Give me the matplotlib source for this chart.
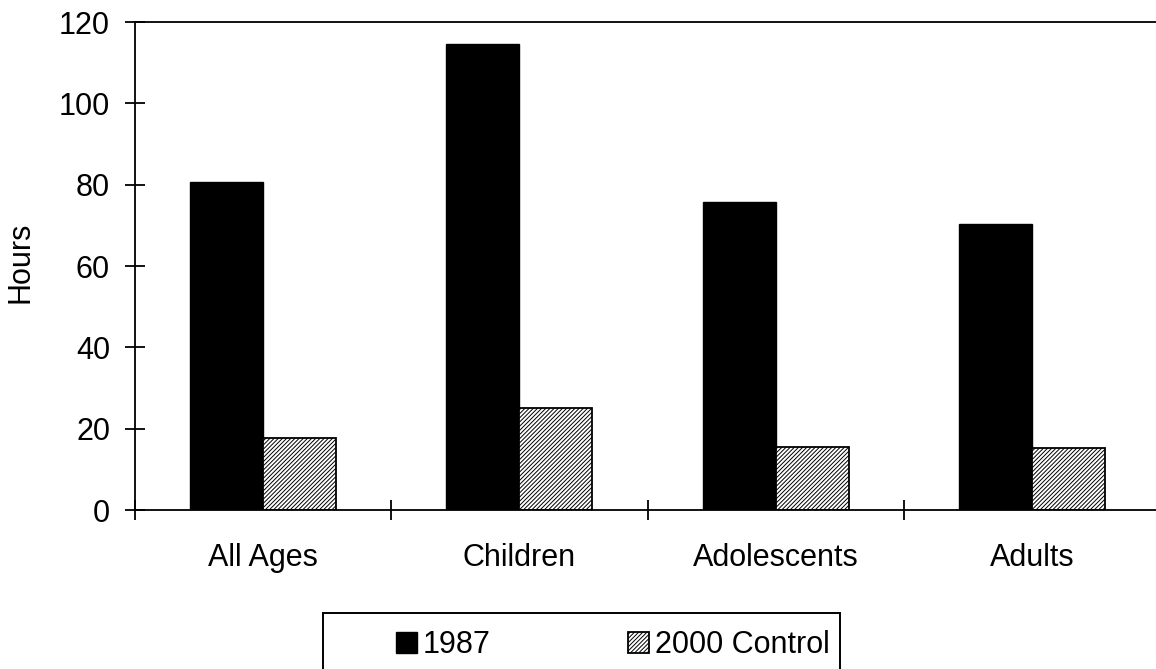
import numpy as np
import matplotlib.pyplot as plt
from matplotlib.patches import Rectangle

plt.rcParams['font.family'] = ['Liberation Sans', 'DejaVu Sans']
plt.rcParams['hatch.linewidth'] = 0.7

categories = ['All Ages', 'Children', 'Adolescents', 'Adults']
hours_1987 = [80.6, 114.6, 75.7, 70.3]
hours_2000 = [17.6, 25.1, 15.6, 15.2]
yticks = [0, 20, 40, 60, 80, 100, 120]

W, H = 1156, 669
fig = plt.figure(figsize=(W / 100, H / 100), dpi=100)
ax = fig.add_axes([135 / W, 1 - 510 / H, 1025 / W, 488 / H])

x = np.arange(len(categories))
w = 0.285
ax.bar(x - w / 2, hours_1987, w, color='black', edgecolor='black', linewidth=1, label='1987')
ax.bar(x + w / 2, hours_2000, w, color='white', edgecolor='black', linewidth=1.3,
       hatch='/' * 8, label='2000 Control')

ax.set_xlim(-0.5, len(categories) - 0.5)
ax.set_ylim(0, 120)
ax.set_yticks(yticks)
ax.set_xticks(x)
ax.set_xticklabels(categories)
ax.set_xticks(np.arange(len(categories)) - 0.5, minor=True)
ax.tick_params(axis='x', which='major', length=0, pad=24, labelsize=22)
ax.tick_params(axis='x', which='minor', direction='inout', length=14, width=1.3)
ax.tick_params(axis='y', direction='inout', length=14, width=1.3, pad=11, labelsize=22)
ax.set_ylabel('Hours', fontsize=22)
ax.yaxis.set_label_coords((36 - 135) / 1025, (510 - 262) / 488)

for s in ['left', 'bottom', 'top']:
    ax.spines[s].set_linewidth(1.3)
ax.spines['right'].set_visible(False)

# legend box (Excel style, frame drawn separately)
fig.patches.append(Rectangle((323 / W, 1 - 676 / H), (840 - 323) / W, 63 / H,
                             transform=fig.transFigure, facecolor='white',
                             edgecolor='black', linewidth=1.4, zorder=1))
leg = fig.legend(loc='center left', bbox_to_anchor=(396 / W, 1 - 645 / H), ncol=2,
                 fontsize=22, frameon=False,
                 handlelength=0.68, handleheight=0.68, handletextpad=0.2,
                 columnspacing=4.5, borderpad=0, borderaxespad=0)
leg.set_zorder(2)

fig.savefig('out.png', dpi=100)
